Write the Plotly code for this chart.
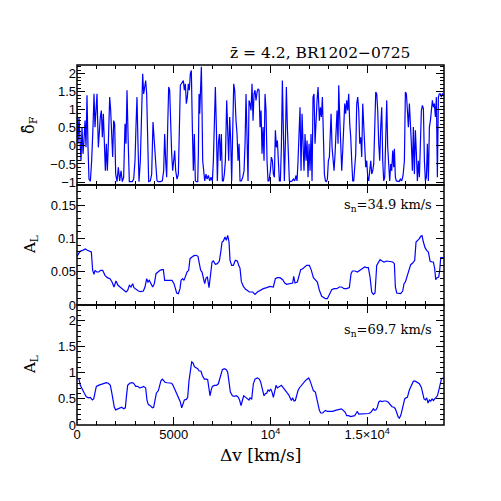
import plotly.graph_objects as go
from plotly.subplots import make_subplots

# top panel: normalised flux contrast delta_F vs velocity (km/s)
dv_flux = [0, 52, 103, 155, 207, 259, 310, 362, 414, 465, 517, 569, 620, 690, 758, 827, 879, 930, 982, 1034,
           1103, 1155, 1206, 1258, 1310, 1362, 1413, 1465, 1517, 1568, 1620, 1689, 1741, 1792, 1844, 1896, 1947,
           1999, 2068, 2137, 2206, 2275, 2343, 2412, 2481, 2533, 2585, 2654, 2705, 2791, 2860, 2929, 2998, 3050,
           3101, 3153, 3205, 3274, 3326, 3395, 3446, 3498, 3550, 3601, 3653, 3705, 3791, 3860, 3929, 3981, 4033,
           4084, 4136, 4205, 4308, 4411, 4480, 4532, 4584, 4635, 4687, 4739, 4790, 4842, 4894, 4946, 4997, 5049,
           5101, 5170, 5238, 5290, 5342, 5393, 5445, 5497, 5548, 5600, 5652, 5703, 5755, 5807, 5858, 5910, 5962,
           6014, 6065, 6117, 6180, 6240, 6273, 6308, 6343, 6394, 6428, 6463, 6497, 6549, 6600, 6670, 6721, 6790,
           6860, 6928, 6997, 7049, 7100, 7152, 7204, 7255, 7307, 7359, 7410, 7462, 7514, 7566, 7617, 7669, 7738,
           7790, 7841, 7893, 7945, 7996, 8048, 8100, 8152, 8186, 8220, 8272, 8324, 8376, 8427, 8496, 8565, 8634,
           8686, 8737, 8789, 8840, 8892, 8944, 8995, 9047, 9099, 9151, 9202, 9254, 9306, 9358, 9410, 9461, 9513,
           9564, 9616, 9668, 9719, 9771, 9823, 9874, 9926, 9995, 10047, 10099, 10150, 10202, 10254, 10306, 10357,
           10409, 10461, 10512, 10564, 10616, 10668, 10719, 10770, 10822, 10874, 10926, 10977, 11046, 11115, 11184,
           11253, 11322, 11373, 11425, 11477, 11528, 11580, 11632, 11684, 11735, 11787, 11839, 11890, 11942, 11994,
           12046, 12097, 12149, 12201, 12252, 12304, 12356, 12408, 12460, 12529, 12580, 12632, 12684, 12736, 12787,
           12839, 12891, 12942, 12994, 13046, 13098, 13132, 13184, 13236, 13287, 13339, 13391, 13442, 13494, 13528,
           13580, 13632, 13683, 13735, 13787, 13839, 13890, 13942, 13994, 14045, 14097, 14149, 14200, 14252, 14304,
           14356, 14407, 14459, 14511, 14563, 14614, 14666, 14718, 14769, 14821, 14873, 14924, 14976, 15028, 15079,
           15131, 15183, 15234, 15286, 15338, 15389, 15441, 15493, 15544, 15596, 15648, 15699, 15751, 15803, 15854,
           15906, 15958, 16009, 16061, 16113, 16164, 16216, 16268, 16320, 16371, 16406, 16457, 16509, 16578, 16647,
           16716, 16785, 16854, 16923, 16974, 17026, 17078, 17129, 17181, 17233, 17284, 17336, 17388, 17439, 17491,
           17543, 17595, 17646, 17698, 17750, 17801, 17853, 17905, 17957, 18008, 18060, 18112, 18163, 18215, 18267,
           18318, 18370, 18422, 18473, 18525, 18577, 18628, 18680, 18731, 18783, 18835, 18887, 18970]
delta_f = [1.07, 0.06, 0.80, 0.24, -0.41, 0.52, -0.22, 0.15, 0.70, -0.04, 1.40, -0.04, -0.92, -0.98, -0.41, 0.52,
           1.44, 0.52, 1.17, 1.44, -0.04, 0.52, 0.80, 0.98, 0.24, 0.89, 0.06, -0.69, 0.06, -0.69, 0.06, 1.35, 0.98,
           0.33, -0.31, 0.70, 0.61, -0.78, -0.99, -0.59, -0.97, -0.69, -0.99, -0.87, 0.61, 0.06, 1.54, -0.04, -0.99,
           -0.99, -0.99, -0.92, -0.41, 0.56, 1.35, 0.06, -0.99, -0.41, 1.07, 2.0, 1.44, 1.63, 1.81, 1.44, 0.06,
           -0.99, -0.97, -0.78, 0.66, 0.15, -0.41, -0.59, -0.97, -0.99, -0.99, -0.97, -0.69, 0.33, -0.41, -0.87,
           0.52, 1.63, 1.54, 0.52, -0.22, -0.69, -0.31, -0.13, -0.69, -0.92, -0.78, 0.52, 1.68, 1.72, 1.77, 1.81,
           1.54, 1.72, 1.17, 1.35, 1.72, 1.54, 2.0, 2.09, 0.52, -0.69, 0.33, -0.97, -0.99, -0.99, -0.22, 1.44, 0.89,
           1.72, 2.19, 0.98, -0.41, -0.69, -0.97, -0.78, -0.92, -0.82, -0.97, -0.87, -0.97, -0.41, 0.70, 1.63, 0.52,
           -0.97, 0.06, 0.33, -0.41, 0.33, -0.97, -0.97, -0.78, -0.41, 1.26, 0.52, -0.41, 0.80, 0.15, -0.97, 0.52,
           1.72, 1.54, 0.98, 0.70, 0.33, -0.41, 0.06, -0.97, -0.97, -0.87, -0.69, 0.06, 1.44, -0.41, -0.97, 1.26,
           1.17, 0.98, 1.72, 0.70, 1.44, 1.54, 1.26, 1.49, 1.58, 1.54, 0.52, 0.98, -0.22, 0.52, -0.41, 1.44, 0.98,
           -0.41, -0.97, -0.97, -0.69, -0.31, -0.41, -0.78, -0.87, 0.43, -0.04, 0.15, -0.59, -0.97, -0.97, -0.04,
           1.81, 0.24, -0.97, 0.06, 1.63, 0.52, -0.31, -0.97, -0.99, -0.97, -0.92, -0.97, -0.82, -0.97, -0.41, 0.24,
           1.07, -0.69, 0.89, 0.06, -0.69, 0.33, -0.41, 0.15, -0.87, 0.06, -0.69, 0.33, -0.97, 1.35, 1.44, 0.06,
           0.98, 1.26, 1.63, 0.70, 1.07, 0.80, 1.35, 0.06, -0.78, -0.97, -0.99, -0.92, -0.41, -0.31, 0.52, 0.89,
           -0.04, -0.31, -0.69, -0.22, 0.52, 0.98, 0.06, 1.68, 0.80, -0.04, -0.69, -0.13, 0.52, 1.17, 0.89, 1.26,
           0.98, 1.44, 0.61, 0.24, -0.41, -0.97, -0.97, -0.69, -0.22, 1.17, 1.35, 0.98, 0.06, 0.24, -0.31, 1.17,
           0.52, 0.06, -0.59, -0.41, -0.87, -0.97, -0.59, -0.41, -0.78, -0.69, -0.50, 0.43, 1.49, 1.44, 0.98, 0.06,
           -0.41, 0.52, 1.07, -0.41, -0.97, -0.87, 0.52, 1.26, -0.04, -0.78, -0.97, -0.50, -0.69, -0.13, -0.59,
           -0.08, -0.87, -0.97, -0.97, -0.99, -0.92, -0.97, -0.82, -0.41, 1.49, 1.44, 0.98, 0.52, 1.17, 0.70, 0.06,
           -0.69, 0.52, -0.78, 0.43, -0.22, -0.97, -0.41, -0.87, 0.06, 0.98, 1.12, 1.03, -0.41, -0.97, -0.87, 0.06,
           -0.97, 0.52, 0.70, 0.98, 1.26, 1.07, 1.17, 0.80, 1.35, -0.87, 1.35, 1.44, 1.44, 1.35, 1.44, 1.40]

# middle panel: A_L smoothed with s_n = 34.9 km/s
dv_a35 = [0, 155, 290, 431, 534, 637, 741, 810, 879, 931, 1017, 1120, 1224, 1327, 1448, 1568, 1706, 1810, 1913,
          2016, 2120, 2223, 2326, 2430, 2533, 2619, 2705, 2791, 2877, 2946, 3050, 3171, 3291, 3429, 3515, 3601,
          3670, 3739, 3826, 3912, 3998, 4084, 4188, 4291, 4394, 4463, 4532, 4635, 4773, 4911, 5014, 5083, 5152,
          5238, 5325, 5376, 5463, 5531, 5600, 5686, 5772, 5841, 5944, 6048, 6151, 6255, 6324, 6393, 6462, 6531,
          6600, 6669, 6738, 6824, 6893, 6979, 7048, 7152, 7255, 7358, 7444, 7496, 7565, 7651, 7720, 7789, 7858,
          7910, 7996, 8082, 8185, 8289, 8358, 8427, 8496, 8599, 8703, 8806, 8909, 9082, 9202, 9323, 9461, 9633,
          9805, 9978, 10150, 10253, 10357, 10494, 10632, 10736, 10839, 11011, 11149, 11201, 11270, 11390, 11494,
          11563, 11666, 11787, 11873, 12011, 12114, 12218, 12321, 12424, 12528, 12648, 12769, 12838, 12941, 13045,
          13165, 13286, 13424, 13561, 13682, 13803, 13940, 14078, 14165, 14234, 14371, 14492, 14630, 14768, 14871,
          14974, 15060, 15147, 15233, 15319, 15405, 15492, 15578, 15664, 15767, 15870, 16008, 16180, 16318, 16404,
          16456, 16525, 16628, 16731, 16835, 16904, 16973, 17042, 17145, 17249, 17352, 17456, 17525, 17593, 17697,
          17766, 17835, 17904, 17990, 18076, 18163, 18249, 18335, 18421, 18490, 18541, 18611, 18697, 18748, 18800,
          18869, 18970]
a_l_35 = [0.073, 0.0805, 0.082, 0.084, 0.082, 0.0805, 0.0795, 0.052, 0.046, 0.052, 0.0495, 0.0495, 0.052, 0.052,
          0.0445, 0.041, 0.0395, 0.0345, 0.027, 0.036, 0.0295, 0.027, 0.0245, 0.022, 0.0195, 0.022, 0.0295, 0.027,
          0.032, 0.026, 0.0235, 0.021, 0.02, 0.021, 0.027, 0.0395, 0.0345, 0.037, 0.032, 0.027, 0.032, 0.047,
          0.0495, 0.052, 0.053, 0.053, 0.037, 0.037, 0.037, 0.037, 0.032, 0.0245, 0.018, 0.017, 0.0245, 0.037,
          0.0395, 0.037, 0.0445, 0.0495, 0.052, 0.0695, 0.072, 0.074, 0.0745, 0.073, 0.062, 0.052, 0.0495, 0.042,
          0.032, 0.0405, 0.042, 0.026, 0.042, 0.0645, 0.066, 0.061, 0.062, 0.066, 0.082, 0.0945, 0.096, 0.102,
          0.097, 0.1045, 0.0945, 0.067, 0.0595, 0.0595, 0.067, 0.066, 0.0595, 0.055, 0.035, 0.028, 0.024, 0.021,
          0.0195, 0.0195, 0.016, 0.0195, 0.022, 0.0245, 0.026, 0.028, 0.027, 0.0395, 0.041, 0.041, 0.038, 0.033,
          0.031, 0.032, 0.033, 0.043, 0.033, 0.0345, 0.0445, 0.053, 0.0545, 0.057, 0.0595, 0.0595, 0.052, 0.041,
          0.037, 0.0345, 0.022, 0.013, 0.011, 0.0095, 0.0095, 0.016, 0.023, 0.0245, 0.0245, 0.027, 0.027, 0.0245,
          0.0245, 0.026, 0.047, 0.051, 0.051, 0.0495, 0.052, 0.0545, 0.057, 0.056, 0.056, 0.042, 0.0195, 0.016,
          0.018, 0.0595, 0.0645, 0.068, 0.066, 0.0645, 0.066, 0.065, 0.0645, 0.062, 0.027, 0.018, 0.017, 0.017,
          0.021, 0.032, 0.0345, 0.042, 0.0495, 0.0605, 0.063, 0.067, 0.0945, 0.096, 0.0995, 0.103, 0.104, 0.0945,
          0.086, 0.082, 0.0795, 0.066, 0.0645, 0.0645, 0.0545, 0.038, 0.041, 0.042, 0.052, 0.071, 0.071, 0.071]

# bottom panel: A_L smoothed with s_n = 69.7 km/s
dv_a70 = [0, 103, 172, 276, 379, 482, 586, 689, 793, 862, 931, 1000, 1103, 1206, 1310, 1413, 1517, 1620, 1723,
          1792, 1861, 1930, 1999, 2103, 2206, 2309, 2413, 2499, 2550, 2619, 2722, 2826, 2929, 3032, 3136, 3239,
          3343, 3446, 3550, 3619, 3687, 3791, 3894, 3963, 4032, 4101, 4205, 4274, 4343, 4412, 4481, 4550, 4653,
          4791, 4894, 4963, 5067, 5170, 5273, 5342, 5411, 5480, 5549, 5652, 5721, 5790, 5859, 5928, 5997, 6066,
          6135, 6238, 6307, 6411, 6480, 6583, 6686, 6755, 6824, 6876, 6928, 6997, 7100, 7204, 7307, 7411, 7514,
          7618, 7721, 7790, 7859, 7928, 8031, 8134, 8238, 8341, 8410, 8479, 8548, 8617, 8720, 8823, 8892, 8944,
          9030, 9116, 9202, 9323, 9426, 9495, 9564, 9668, 9736, 9805, 9874, 9943, 10012, 10081, 10150, 10219,
          10288, 10357, 10460, 10564, 10667, 10736, 10805, 10874, 10943, 11012, 11080, 11149, 11218, 11287, 11356,
          11425, 11494, 11597, 11701, 11804, 11907, 11976, 12045, 12114, 12218, 12321, 12390, 12459, 12528, 12597,
          12700, 12838, 12941, 13079, 13217, 13355, 13458, 13561, 13665, 13768, 13872, 13940, 14044, 14148, 14251,
          14354, 14423, 14492, 14561, 14665, 14768, 14871, 14974, 15078, 15181, 15250, 15319, 15388, 15457, 15526,
          15595, 15664, 15767, 15870, 15974, 16077, 16180, 16284, 16387, 16456, 16525, 16594, 16663, 16732, 16800,
          16869, 16938, 17007, 17076, 17180, 17249, 17318, 17387, 17490, 17593, 17697, 17800, 17869, 17938, 18007,
          18076, 18145, 18214, 18283, 18352, 18421, 18490, 18559, 18628, 18697, 18766, 18835, 18904, 18970]
a_l_70 = [0.90, 0.88, 0.76, 0.67, 0.61, 0.54, 0.52, 0.53, 0.48, 0.50, 0.60, 0.74, 0.76, 0.77, 0.78, 0.79, 0.81,
          0.80, 0.76, 0.63, 0.47, 0.34, 0.29, 0.31, 0.33, 0.34, 0.31, 0.33, 0.53, 0.76, 0.80, 0.81, 0.80, 0.74,
          0.74, 0.71, 0.72, 0.74, 0.71, 0.47, 0.39, 0.37, 0.33, 0.34, 0.47, 0.61, 0.66, 0.76, 0.85, 0.88, 0.84,
          0.82, 0.81, 0.81, 0.80, 0.76, 0.67, 0.56, 0.50, 0.44, 0.33, 0.40, 0.48, 0.49, 0.53, 0.85, 1.04, 1.21,
          1.19, 1.12, 1.10, 1.08, 1.04, 1.03, 0.95, 0.88, 0.88, 0.87, 0.69, 0.56, 0.66, 0.74, 0.76, 0.76, 0.79,
          0.92, 1.06, 1.08, 1.06, 1.01, 0.82, 0.63, 0.56, 0.55, 0.56, 0.53, 0.47, 0.37, 0.47, 0.56, 0.53, 0.50,
          0.48, 0.52, 0.50, 0.79, 0.88, 0.90, 0.88, 0.82, 0.72, 0.56, 0.60, 0.61, 0.67, 0.65, 0.69, 0.63, 0.53,
          0.66, 0.76, 0.71, 0.74, 0.76, 0.71, 0.67, 0.63, 0.61, 0.58, 0.53, 0.47, 0.52, 0.46, 0.47, 0.58, 0.66,
          0.71, 0.76, 0.80, 0.85, 0.88, 0.90, 0.85, 0.76, 0.66, 0.63, 0.50, 0.37, 0.28, 0.23, 0.23, 0.28, 0.26,
          0.26, 0.26, 0.28, 0.29, 0.31, 0.31, 0.28, 0.24, 0.18, 0.18, 0.16, 0.17, 0.18, 0.22, 0.26, 0.21, 0.21,
          0.21, 0.22, 0.21, 0.22, 0.24, 0.29, 0.31, 0.28, 0.29, 0.34, 0.44, 0.46, 0.45, 0.46, 0.46, 0.44, 0.39,
          0.35, 0.34, 0.31, 0.24, 0.16, 0.13, 0.18, 0.28, 0.40, 0.50, 0.52, 0.53, 0.67, 0.74, 0.80, 0.84, 0.84,
          0.82, 0.79, 0.72, 0.63, 0.50, 0.48, 0.52, 0.42, 0.48, 0.46, 0.50, 0.47, 0.50, 0.53, 0.56, 0.66, 0.79,
          0.88, 0.90, 0.90]

x_tickvals = [0, 5000, 10000, 15000]
x_ticktext = ["0", "5000", "10<sup>4</sup>", "1.5×10<sup>4</sup>"]
top_ticks = [-1, -0.5, 0, 0.5, 1, 1.5, 2]
top_text = ["\u22121", "\u22120.5", "0", "0.5", "1", "1.5", "2"]
mid_ticks = [0, 0.05, 0.1, 0.15]
mid_text = ["0", "0.05", "0.1", "0.15"]
bot_ticks = [0, 0.5, 1, 1.5, 2]
bot_text = ["0", "0.5", "1", "1.5", "2"]

SANS = "Liberation Sans"
SERIF = "DejaVu Serif"
BLUE = "#0000ff"
W = H = 493  # page body keeps an 8px margin

fig = make_subplots(rows=3, cols=1, shared_xaxes=True, vertical_spacing=0)
fig.add_trace(go.Scatter(x=dv_flux, y=delta_f, mode="lines", line=dict(color=BLUE, width=1.2)), row=1, col=1)
fig.add_trace(go.Scatter(x=dv_a35, y=a_l_35, mode="lines", line=dict(color=BLUE, width=1.2)), row=2, col=1)
fig.add_trace(go.Scatter(x=dv_a70, y=a_l_70, mode="lines", line=dict(color=BLUE, width=1.2)), row=3, col=1)

axis_common = dict(showline=False, mirror="ticks", ticks="inside",
                   tickcolor="black", tickwidth=1.2, ticklen=8, showgrid=False, zeroline=False,
                   tickfont=dict(family=SANS, size=13, color="black"))

for r in (1, 2, 3):
    fig.update_xaxes(range=[0, 18970], tickvals=x_tickvals, ticktext=x_ticktext,
                     showticklabels=(r == 3),
                     minor=dict(ticks="inside", dtick=1000, ticklen=4, tickcolor="black", tickwidth=1),
                     **axis_common, row=r, col=1)

fig.update_yaxes(range=[-1.083, 2.24], tickvals=top_ticks, ticktext=top_text,
                 minor=dict(ticks="inside", tickvals=[v / 10 for v in range(-10, 23)], ticklen=4,
                            tickcolor="black", tickwidth=1),
                 **axis_common, row=1, col=1)
fig.update_yaxes(range=[0, 0.18], tickvals=mid_ticks, ticktext=mid_text,
                 minor=dict(ticks="inside", tickvals=[v / 100 for v in range(0, 19)], ticklen=4,
                            tickcolor="black", tickwidth=1),
                 **axis_common, row=2, col=1)
fig.update_yaxes(range=[0, 2.3], tickvals=bot_ticks, ticktext=bot_text,
                 minor=dict(ticks="inside", tickvals=[v / 10 for v in range(0, 24)], ticklen=4,
                            tickcolor="black", tickwidth=1),
                 **axis_common, row=3, col=1)

# one frame per panel, so shared edges are a single line
for xr, yr in (("x", "y"), ("x2", "y2"), ("x3", "y3")):
    fig.add_shape(type="rect", xref=f"{xr} domain", yref=f"{yr} domain", x0=0, x1=1, y0=0, y1=1,
                  line=dict(color="black", width=1.5), layer="above")

annotations = [
    dict(text="s<sub>n</sub>=34.9 km/s", xref="x2 domain", yref="y2 domain", x=0.973, y=0.833,
         xanchor="right", yanchor="middle", showarrow=False, font=dict(family=SERIF, size=13, color="black")),
    dict(text="s<sub>n</sub>=69.7 km/s", xref="x3 domain", yref="y3 domain", x=0.973, y=0.79,
         xanchor="right", yanchor="middle", showarrow=False, font=dict(family=SERIF, size=13, color="black")),
    dict(text="\u03b4\u0302<sub>F</sub>", xref="paper", yref="y domain", x=-0.131, y=0.5, textangle=-90,
         xanchor="center", yanchor="middle", showarrow=False, font=dict(family=SERIF, size=16, color="black")),
    dict(text="A<sub>L</sub>", xref="paper", yref="y2 domain", x=-0.128, y=0.5, textangle=-90,
         xanchor="center", yanchor="middle", showarrow=False, font=dict(family=SERIF, size=15, color="black")),
    dict(text="A<sub>L</sub>", xref="paper", yref="y3 domain", x=-0.128, y=0.5, textangle=-90,
         xanchor="center", yanchor="middle", showarrow=False, font=dict(family=SERIF, size=15, color="black")),
    dict(text="\u0394v [km/s]", xref="paper", yref="paper", x=0.5, y=-0.082, xanchor="center",
         yanchor="middle", showarrow=False, font=dict(family=SERIF, size=17, color="black")),
]

fig.update_layout(
    width=W, height=H,
    margin=dict(l=69, r=57, t=57, b=76),
    paper_bgcolor="white", plot_bgcolor="white",
    showlegend=False,
    title=dict(text="z\u0304 = 4.2, BR1202\u22120725", x=222 / W, xanchor="left",
               y=1 - 45 / H, yanchor="middle", font=dict(family=SERIF, size=15.5, color="black")),
    annotations=annotations,
)

fig.write_html("out.html")
